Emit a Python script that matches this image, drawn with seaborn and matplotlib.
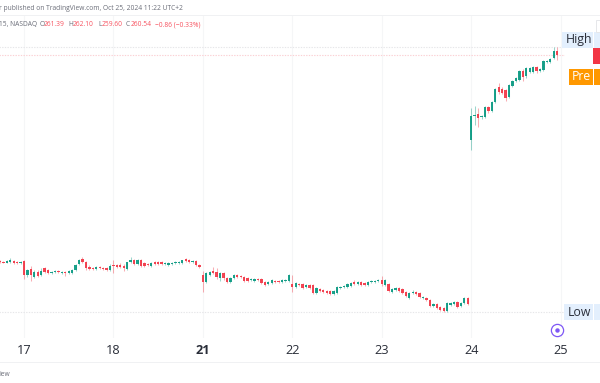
import matplotlib
matplotlib.use("Agg")
import matplotlib.pyplot as plt
from matplotlib.patches import Rectangle
import numpy as np
import pandas as pd
import seaborn as sns

W, H = 600, 383

opens = [221.7,221.6,221.45,221.5,221.7,221.5,221.3,
 221.7,219.1,220.2,218.7,219.7,219.1,220.4,220.0,219.5,219.7,219.8,219.5,219.7,219.5,219.5,220.0,221.2,222.1,221.5,220.6,220.4,220.2,220.6,220.4,220.4,220.0,
 221.0,221.0,221.0,220.8,220.2,221.5,221.9,221.2,221.9,221.4,221.2,220.8,221.5,221.5,221.5,221.2,221.0,221.2,221.4,221.4,221.4,222.1,221.9,221.5,221.7,221.0,
 219.1,217.8,219.1,219.8,219.7,218.5,219.5,218.5,217.8,218.5,219.1,218.9,218.7,218.5,218.1,218.0,218.3,218.3,217.8,217.4,217.6,218.0,218.0,217.8,218.0,218.0,
 217.4,216.8,217.4,217.4,216.8,217.2,217.2,215.7,216.4,216.3,216.1,216.1,215.5,215.7,216.6,216.8,216.8,217.0,217.8,217.4,217.8,217.6,217.2,217.8,217.8,218.0,
 218.1,217.2,217.4,215.9,216.3,216.6,216.4,215.9,214.7,215.7,215.9,215.7,214.7,214.7,214.4,213.2,213.6,213.1,212.9,212.3,213.4,213.6,214.0,213.2,213.8,214.7,
 244.6,249.1,249.5,248.9,248.9,250.8,250.0,251.7,254.6,254.2,254.0,252.7,254.8,255.7,255.9,257.6,256.6,257.4,257.4,258.3,257.6,257.8,259.3,259.3,260.0,261.39]
closes = [221.5,221.45,221.7,221.9,221.4,221.3,221.5,
 219.1,220.0,219.1,219.7,218.9,219.8,219.7,219.5,219.7,219.8,219.7,219.7,219.5,219.8,220.0,221.0,221.9,221.5,220.4,220.2,220.2,220.6,220.4,220.2,220.0,220.8,
 220.8,220.6,220.6,220.4,221.5,221.9,221.2,221.9,220.8,220.8,221.0,221.4,221.2,221.2,221.2,221.4,221.4,221.4,221.5,221.5,221.9,221.7,221.5,221.7,221.0,220.6,
 217.8,219.5,219.7,219.5,218.7,219.5,218.5,217.8,218.5,219.1,218.7,218.7,218.0,218.0,218.3,218.3,218.1,217.6,217.2,217.8,218.1,217.8,217.8,218.1,218.1,219.1,
 216.8,217.6,217.2,216.6,217.2,216.6,215.7,216.6,216.1,215.9,215.7,215.5,216.1,216.8,216.8,217.0,217.4,217.6,217.4,217.8,217.2,217.2,217.8,218.0,218.0,218.1,
 217.4,218.1,216.1,216.4,216.6,216.1,215.7,215.1,215.7,215.9,215.5,214.9,214.9,214.4,213.2,213.6,212.9,212.5,212.3,213.8,213.8,214.0,213.1,213.8,214.7,213.6,
 249.1,249.3,248.7,249.1,250.8,250.0,251.7,254.2,253.6,253.4,252.5,254.9,255.7,256.3,257.6,256.5,258.2,258.2,258.3,257.6,258.0,259.5,259.5,259.9,261.4,260.54]
highs = [221.9,221.8,221.9,222.3,221.9,221.7,221.7,
 221.9,220.2,220.8,220.0,220.0,220.4,220.6,220.2,219.9,220.0,220.0,219.9,219.8,220.0,220.2,221.2,222.1,222.5,221.7,221.0,220.6,220.8,220.8,220.6,220.6,221.2,
 221.9,221.2,221.4,221.2,221.6,222.5,222.1,222.1,222.1,221.5,221.4,221.5,221.7,221.7,221.7,221.6,221.5,221.5,221.7,221.7,222.0,222.3,222.1,221.9,221.9,221.2,
 219.8,219.7,219.8,220.6,220.4,219.7,219.7,218.7,218.7,219.3,219.3,219.1,218.9,218.7,218.5,218.5,218.5,218.5,218.0,218.0,218.3,218.1,218.1,218.3,218.3,219.3,
 219.1,217.8,217.6,217.6,217.4,217.4,217.4,216.8,216.6,216.4,216.3,216.3,216.3,217.0,217.0,217.2,217.6,217.8,218.2,218.0,218.0,217.8,218.0,218.1,218.1,218.3,
 218.9,218.3,217.6,216.6,216.8,216.8,216.6,216.1,215.9,216.2,216.1,215.9,215.1,214.9,214.6,213.8,213.8,213.2,213.1,214.0,214.0,214.2,214.2,214.0,214.9,214.9,
 250.6,251.0,250.6,249.3,251.0,251.0,251.9,254.4,255.4,254.6,254.2,255.1,255.9,256.5,257.8,257.9,258.4,258.4,258.6,258.6,258.2,259.7,259.7,260.1,262.1,262.10]
lows = [221.4,221.3,221.3,221.4,221.2,221.1,221.2,
 218.3,218.7,218.0,218.5,218.7,218.9,219.5,219.3,219.3,219.5,219.5,219.3,218.9,219.3,219.3,219.8,221.0,221.4,220.0,220.0,220.0,220.0,220.2,220.0,219.8,219.8,
 219.5,220.4,220.4,219.8,220.0,221.4,221.0,221.0,220.6,220.6,220.8,220.6,221.0,221.0,221.0,221.0,220.8,221.0,221.2,221.2,221.2,221.5,221.4,221.4,220.8,220.4,
 215.9,217.6,218.9,219.3,218.3,218.0,218.1,217.6,217.6,218.3,218.5,218.5,217.8,217.8,218.0,217.8,218.0,217.4,217.0,217.2,217.4,217.6,217.6,217.6,217.8,217.8,
 215.9,216.6,217.0,216.4,216.6,216.4,215.5,215.5,215.9,215.7,215.5,215.3,215.3,215.5,216.4,216.6,216.6,216.8,217.2,217.2,217.0,217.0,217.0,217.6,217.6,217.8,
 217.0,217.0,215.9,215.7,216.1,215.9,215.5,214.9,214.6,215.5,215.3,214.7,214.6,214.2,213.1,213.1,212.7,212.3,212.1,212.2,213.2,213.4,212.9,213.1,213.6,213.4,
 242.7,247.4,247.0,248.5,248.7,249.7,249.8,251.5,253.3,253.2,251.9,252.5,254.6,255.5,255.7,255.7,256.3,257.2,257.2,257.3,257.4,257.6,259.1,259.1,259.8,259.60]

tick_labels = ["17", "18", "21", "22", "23", "24", "25"]
bars_before_first_tick = 7
bars_per_day = 26
high_price = 262.10
last_price = 260.54
low_price = 212.11

df = pd.DataFrame({"open": opens, "close": closes, "high": highs, "low": lows})
df["bar"] = np.arange(len(df))

UP = "#089981"
DOWN = "#F23645"

sns.set_theme(style="white", rc={"font.family": ["Open Sans", "DejaVu Sans"]})
fig = plt.figure(figsize=(W / 100, H / 100), dpi=100, facecolor="white")

ax = fig.add_axes([0, 1 - 338 / H, 565 / W, (338 - 15) / H])
px_per_bar = 3.44
ax.set_xlim(bars_before_first_tick - 24 / px_per_bar, bars_before_first_tick + (565 - 24) / px_per_bar)
ax.set_ylim(low_price - (338 - 312) * 0.1887, low_price + (312 - 15) * 0.1887)

tick_pos = [bars_before_first_tick + i * bars_per_day for i in range(len(tick_labels))]
ax.set_xticks(tick_pos)
ax.set_xticklabels(tick_labels, fontsize=9.2, color="#2a2e39")
ax.get_xticklabels()[2].set_fontweight("bold")
ax.tick_params(axis="x", length=0, pad=4)
ax.set_yticks([])
ax.grid(axis="x", color="#f5f6f7", lw=0.8)
ax.set_axisbelow(True)
sns.despine(ax=ax, left=True, right=True, bottom=True, top=True)

ends = [df["bar"].iloc[0] - 5, df["bar"].iloc[-1] + 20]
for price, col in [(high_price, "#e6e6e9"), (low_price, "#e6e6e9"), (last_price, "#fbd0d4")]:
    sns.lineplot(x=ends, y=[price, price], ax=ax, color=col, lw=0.8, ls=(0, (1.2, 1.2)), legend=False, zorder=1)

up = df["close"] >= df["open"]
colors = np.where(up, UP, DOWN)
ax.vlines(df["bar"], df["low"], df["high"], colors=colors, lw=0.75, alpha=0.4, zorder=2)
body = (df["close"] - df["open"]).abs().clip(lower=0.14)
ax.bar(df["bar"], body, bottom=df[["open", "close"]].min(axis=1), width=0.68, color=colors, lw=0, alpha=0.92, zorder=3)

def box(x0, y0, x1, y1, color):
    fig.add_artist(Rectangle((x0 / W, 1 - y1 / H), (x1 - x0) / W, (y1 - y0) / H,
                             transform=fig.transFigure, facecolor=color, edgecolor="none", zorder=5))

box(0, 15, 600, 15.8, "#f0f1f3")
box(0, 362, 600, 363, "#f0f1f3")

LB = "#e3effd"
box(562, 32, 593, 47.5, LB); box(594, 32, 600, 47.5, LB)
box(593, 48, 600, 64, DOWN)
box(569, 69, 593, 85, "#FF9800"); box(594, 69, 600, 85, "#FF9800")
box(564, 304, 593, 320, LB); box(594, 304, 600, 320, LB)
fig.add_artist(Rectangle((595.5 / W, 1 - 32 / H), 6 / W, 12 / H, transform=fig.transFigure,
                         facecolor="white", edgecolor="#e6e7ea", lw=0.7, zorder=5))

def label(x, y, s, color="#2a2e39", size=8.8, ha="left", **kw):
    fig.text(x / W, 1 - y / H, s, color=color, fontsize=size, ha=ha, va="center", zorder=6, **kw)

label(566, 39.5, "High")
label(572, 77, "Pre", color="white")
label(568, 312, "Low")

GREY = "#6a6d78"
label(-1, 9, "r published on TradingView.com, Oct 25, 2024 11:22 UTC+2", color=GREY, size=4.75)
label(-1, 24.5, "15, NASDAQ", color=GREY, size=4.75)
RED = "#f7525f"
for x, s, c in [(39.5, "O", GREY), (44, "261.39", RED), (68.5, "H", GREY), (73, "262.10", RED),
                (98, "L", GREY), (102, "259.60", RED), (126, "C", GREY), (131, "260.54", RED),
                (155, "\u22120.86 (\u22120.33%)", RED)]:
    label(x, 24.5, s, color=c, size=4.75)
label(-1, 374, "iew", color=GREY, size=4.75)

fig.add_artist(plt.Line2D([557 / W], [1 - 330 / H], marker="o", ms=8.8, mfc="white", mec="#7e57f5", mew=0.9,
                          transform=fig.transFigure, zorder=6))
fig.add_artist(plt.Line2D([557 / W], [1 - 330 / H], marker="o", ms=3.2, mfc="#7e57f5", mec="none",
                          transform=fig.transFigure, zorder=7))

fig.savefig("out.png", dpi=100, facecolor="white")
